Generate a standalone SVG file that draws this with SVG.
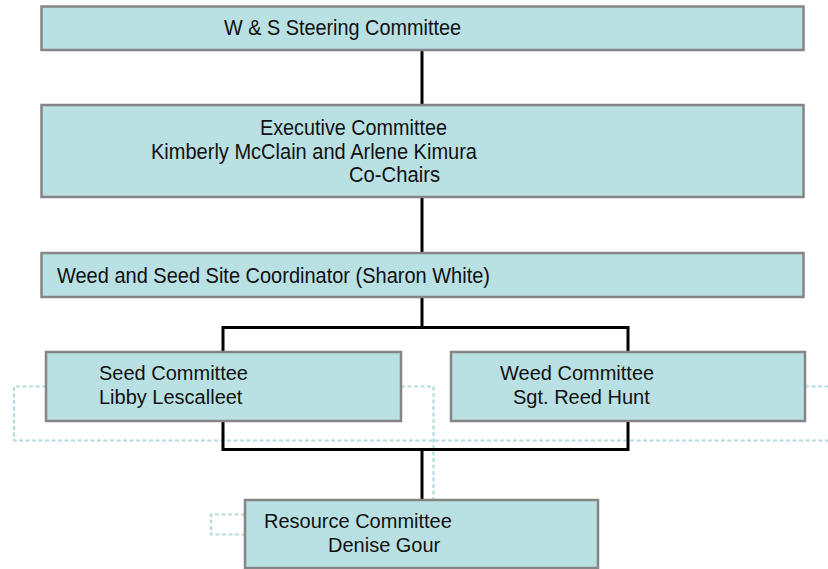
<svg xmlns="http://www.w3.org/2000/svg" width="828" height="569" viewBox="0 0 828 569">
<style>
.box{fill:#b9e0e3;stroke:#858585;stroke-width:2.5}
.t{font-family:"Liberation Sans",Arial,sans-serif;font-size:20px;fill:#111}
.n{font-family:"Liberation Sans",Arial,sans-serif;font-size:22px;fill:#111}
.con{fill:none;stroke:#000;stroke-width:3}
.dash{fill:none;stroke:#b3dbe0;stroke-width:2.2;stroke-dasharray:4 2.5}
</style>
<rect width="828" height="569" fill="#fff"/>
<g id="dashed">
<path class="dash" d="M46,386.5 H14 V440.5 H828"/>
<path class="dash" d="M401,386.5 H433.5 V500"/>
<path class="dash" d="M805,386.5 H828"/>
<path class="dash" d="M245,514.5 H211 V534.5 H245"/>
</g>
<g id="connectors">
<path class="con" d="M422,50 V105"/>
<path class="con" d="M422,197 V253"/>
<path class="con" d="M422,297 V327.5"/>
<path class="con" d="M223,352 V327.5 H628 V352"/>
<path class="con" d="M223,421 V449.5 H628 V421"/>
<path class="con" d="M422,449.5 V500"/>
</g>
<g id="steering">
<rect class="box" x="41.5" y="6.5" width="762" height="43.5"/>
<text class="n" x="224" y="35" textLength="237" lengthAdjust="spacingAndGlyphs">W &amp; S Steering Committee</text>
</g>
<g id="executive">
<rect class="box" x="41.5" y="105" width="762" height="92"/>
<text class="n" x="260" y="135" textLength="187" lengthAdjust="spacingAndGlyphs">Executive Committee</text>
<text class="n" x="151" y="158.5" textLength="326" lengthAdjust="spacingAndGlyphs">Kimberly McClain and Arlene Kimura</text>
<text class="n" x="349" y="182" textLength="91" lengthAdjust="spacingAndGlyphs">Co-Chairs</text>
</g>
<g id="coordinator">
<rect class="box" x="41.5" y="253" width="762" height="44"/>
<text class="n" x="57" y="283" textLength="433" lengthAdjust="spacingAndGlyphs">Weed and Seed Site Coordinator (Sharon White)</text>
</g>
<g id="seed">
<rect class="box" x="46" y="352" width="355" height="69"/>
<text class="t" x="99" y="380">Seed Committee</text>
<text class="t" x="99" y="404">Libby Lescalleet</text>
</g>
<g id="weed">
<rect class="box" x="451" y="352" width="354" height="69"/>
<text class="t" x="500" y="380">Weed Committee</text>
<text class="t" x="513" y="404">Sgt. Reed Hunt</text>
</g>
<g id="resource">
<rect class="box" x="245" y="500" width="353" height="68"/>
<text class="t" x="264" y="528">Resource Committee</text>
<text class="t" x="328" y="552">Denise Gour</text>
</g>
</svg>
